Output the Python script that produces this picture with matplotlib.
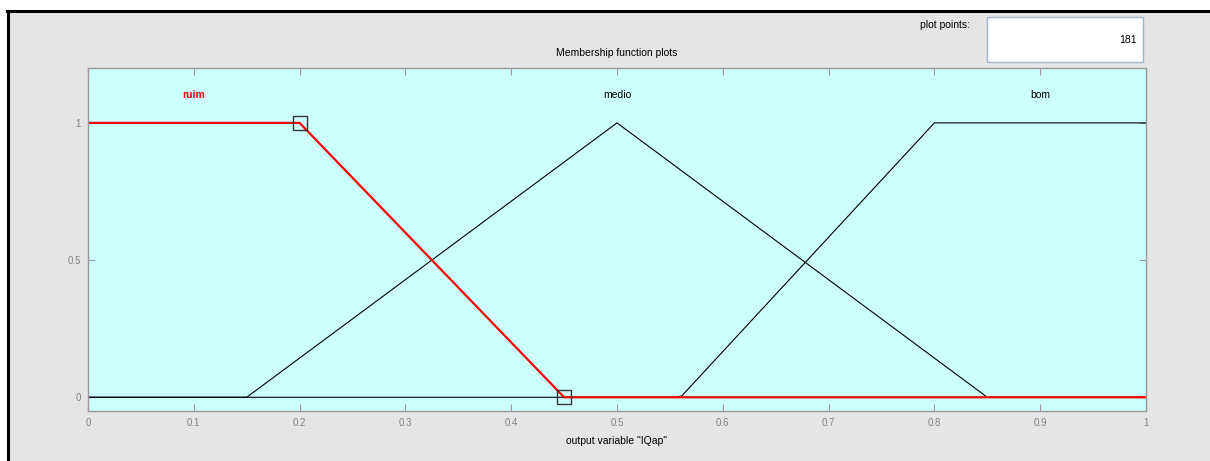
import numpy as np
import matplotlib.pyplot as plt
from matplotlib.patches import Rectangle
from matplotlib.lines import Line2D

plt.rcParams['font.family'] = ['Liberation Sans', 'DejaVu Sans']

# membership functions of output variable "IQap"
names = ['ruim', 'medio', 'bom']
ruim_x = [0.0, 0.0, 0.2, 0.45]     # trapmf
medio_x = [0.15, 0.5, 0.85]        # trimf
bom_x = [0.56, 0.8, 1.0, 1.0]      # trapmf
plot_points = 181

x = np.linspace(0, 1, plot_points)
ruim = np.interp(x, ruim_x, [1, 1, 1, 0])
medio = np.interp(x, medio_x, [0, 1, 0])
bom = np.interp(x, bom_x, [0, 1, 1, 1])

fig = plt.figure(figsize=(12.1, 4.61), dpi=100)
fig.patch.set_facecolor('#e5e5e5')

# white strip on top and black frame lines
fig.patches.append(Rectangle((0, 1 - 10 / 461), 1, 10 / 461, transform=fig.transFigure,
                             facecolor='white', edgecolor='none'))
fig.patches.append(Rectangle((0, 0), 7 / 1210, 1, transform=fig.transFigure,
                             facecolor='white', edgecolor='none'))
fig.lines.append(Line2D([7 / 1210, 1], [1 - 11 / 461] * 2, transform=fig.transFigure,
                        color='black', lw=2.2))
fig.lines.append(Line2D([8 / 1210] * 2, [0, 1 - 11 / 461], transform=fig.transFigure,
                        color='black', lw=2.2))

ax = fig.add_axes([88 / 1210, 1 - 411 / 461, (1146 - 88) / 1210, (411 - 68) / 461])
ax.set_facecolor('#ccffff')

ax.plot(x, medio, color='black', lw=0.8)
ax.plot(x, bom, color='black', lw=0.8)
ax.plot(x, ruim, color='red', lw=1.6)

# markers at the ruim breakpoints
ax.plot([ruim_x[2], ruim_x[3]], [1, 0], ls='none', marker='s', ms=10,
        mfc='none', mec='#333333', mew=1)

ax.text(0.1, 1.1, names[0], color='red', fontsize=7.5, fontweight='bold',
        ha='center', va='center')
ax.text(0.5, 1.1, names[1], color='black', fontsize=7.5, ha='center', va='center')
ax.text(0.9, 1.1, names[2], color='black', fontsize=7.5, ha='center', va='center')

ax.set_xlim(0, 1)
ax.set_ylim(-0.05, 1.2)
ax.set_xticks(np.arange(0, 1.01, 0.1))
ax.set_xticklabels(['0', '0.1', '0.2', '0.3', '0.4', '0.5', '0.6', '0.7', '0.8', '0.9', '1'])
ax.set_yticks([0, 0.5, 1])
ax.set_yticklabels(['0', '0.5', '1'])
ax.tick_params(direction='in', length=5, color='#999999', labelcolor='#808080',
               labelsize=7, top=True, right=True, pad=5)
for s in ax.spines.values():
    s.set_color('#999999')
    s.set_linewidth(1)

ax.set_title('Membership function plots', fontsize=7.5, pad=9)
ax.set_xlabel('output variable "IQap"', fontsize=7.5, labelpad=6)

fig.text(970 / 1210, 1 - 25 / 461, 'plot points:', fontsize=7.5, ha='right', va='center')
fig.patches.append(Rectangle((987 / 1210, 1 - 62 / 461), 156 / 1210, 45 / 461,
                             transform=fig.transFigure, facecolor='white',
                             edgecolor='#a0b4c8', lw=1))
fig.text(1137 / 1210, 1 - 40 / 461, str(plot_points), fontsize=7.5, ha='right', va='center')

fig.savefig('out.png', dpi=100, facecolor=fig.get_facecolor())
